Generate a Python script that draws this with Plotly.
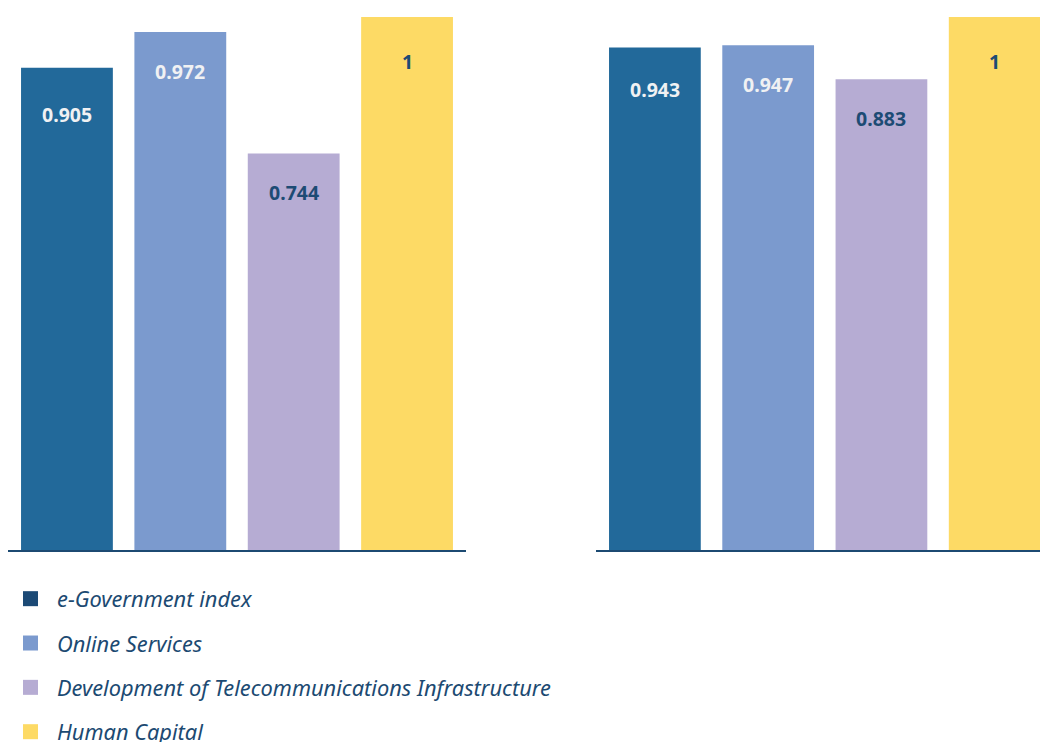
import plotly.graph_objects as go

categories = ["e-Government index", "Online Services",
              "Development of Telecommunications Infrastructure", "Human Capital"]
left_values = [0.905, 0.972, 0.744, 1]
right_values = [0.943, 0.947, 0.883, 1]
bar_colors = ["#22699A", "#7B9ACE", "#B6ACD3", "#FDDA65"]
legend_colors = ["#1C4A76", "#7B9ACE", "#B6ACD3", "#FDDA65"]
label_colors = ["#F0F1F3", "#F0F1F3", "#1D4B74", "#1D4B74"]
# distance (px) of each value label below its bar top
left_label_offsets = [47, 40, 39, 44]
right_label_offsets = [42, 39, 39, 44]

W, H = 1040, 742
NAVY = "#1C4A72"

fig = go.Figure()
positions = list(range(len(categories)))

for i, cat in enumerate(categories):
    fig.add_trace(go.Bar(x=[positions[i]], y=[left_values[i]], width=0.81,
                         marker=dict(color=bar_colors[i], line=dict(width=0)),
                         showlegend=False, xaxis="x", yaxis="y", hoverinfo="skip"))
    fig.add_trace(go.Bar(x=[positions[i]], y=[right_values[i]], width=0.81,
                         marker=dict(color=bar_colors[i], line=dict(width=0)),
                         showlegend=False, xaxis="x2", yaxis="y2", hoverinfo="skip"))
    # legend-only entry
    fig.add_trace(go.Scatter(x=[None], y=[None], name=cat, legendgroup=f"g{i}",
                             mode="markers",
                             marker=dict(symbol="square", size=15, color=legend_colors[i],
                                         line=dict(width=0)),
                             showlegend=True, xaxis="x", yaxis="y"))

def fmt(v):
    return "1" if v == 1 else f"{v:.3f}"

annotations = []
for vals, offs, xr, yr in [(left_values, left_label_offsets, "x", "y"),
                           (right_values, right_label_offsets, "x2", "y2")]:
    for i, v in enumerate(vals):
        annotations.append(dict(x=positions[i], y=v, xref=xr, yref=yr, text=fmt(v),
                                showarrow=False, yshift=-offs[i],
                                font=dict(family="Noto Sans, sans-serif", size=19.5,
                                          color=label_colors[i], weight="bold")))

base_px = 550
base_frac = (H - base_px) / H
ytop = base_px / 533.0
axis_common = dict(showgrid=False, zeroline=False, showticklabels=False, ticks="",
                   fixedrange=True)
fig.update_layout(
    width=W, height=H,
    margin=dict(l=0, r=0, t=0, b=0, autoexpand=False),
    paper_bgcolor="white", plot_bgcolor="white",
    barmode="overlay",
    xaxis=dict(domain=[8 / W, 466 / W], range=[-0.52, 3.52], anchor="y",
               showline=True, linecolor=NAVY, linewidth=2, **axis_common),
    xaxis2=dict(domain=[596 / W, 1.0], range=[-0.52, 3.40], anchor="y2",
                showline=True, linecolor=NAVY, linewidth=2, **axis_common),
    yaxis=dict(domain=[base_frac, 1.0], range=[0, ytop], anchor="x", **axis_common),
    yaxis2=dict(domain=[base_frac, 1.0], range=[0, ytop], anchor="x2", **axis_common),
    annotations=annotations,
    showlegend=True,
    legend=dict(x=4 / W, y=(H - 578) / H, xanchor="left", yanchor="top",
                orientation="v", traceorder="grouped", tracegroupgap=13,
                itemwidth=43, itemsizing="trace",
                bgcolor="rgba(0,0,0,0)", borderwidth=0,
                font=dict(family="Noto Sans, sans-serif", size=21.8, color=NAVY,
                          style="italic")),
)

fig.write_html("out.html",
               config={"displayModeBar": False},
               post_script="document.body.style.margin='0';document.body.style.overflow='hidden';")
